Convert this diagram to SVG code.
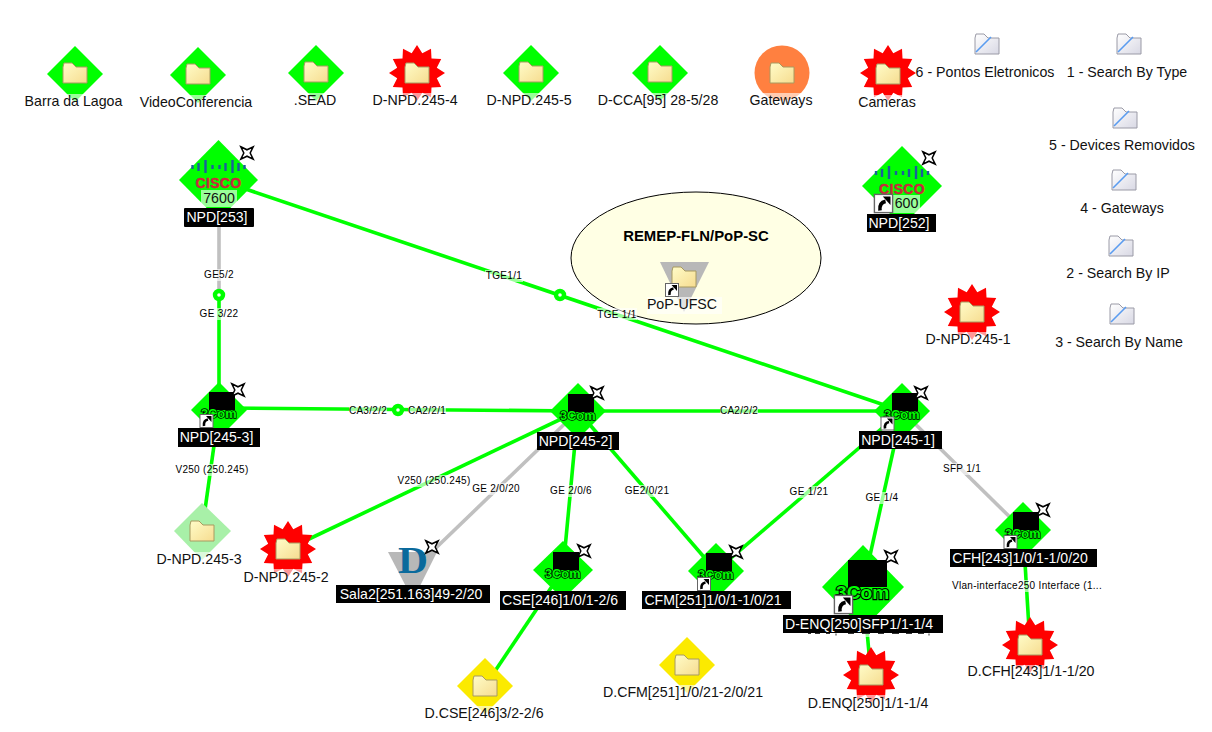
<svg xmlns="http://www.w3.org/2000/svg" width="1212" height="732" viewBox="0 0 1212 732">
<style>
text{font-family:"Liberation Sans",Arial,sans-serif}
.l{font-size:14.2px;fill:#111;text-anchor:middle}
.w{font-size:14.1px;fill:#fff;text-anchor:middle}
.e{font-size:10px;fill:#000;text-anchor:middle;letter-spacing:.3px}
.bg{fill:#fff;opacity:.6}
.bl{fill:#000}
.g{stroke:#0f0;stroke-width:3.6;fill:none}
.y{stroke:#c0c0c0;stroke-width:3.6;fill:none}
.dot{fill:#fff;stroke:#0f0;stroke-width:4.4}
.com{font-weight:bold;font-size:12.8px;fill:#0f0;stroke:#000;stroke-width:1.5px;paint-order:stroke}
</style>
<defs>
<linearGradient id="fy" x1="0" y1="0" x2="1" y2="1"><stop offset="0" stop-color="#fffcc8"/><stop offset="1" stop-color="#f6dc90"/></linearGradient>
<linearGradient id="fw" x1="0" y1="0" x2="1" y2="1"><stop offset="0" stop-color="#fff"/><stop offset="1" stop-color="#d8d8e4"/></linearGradient>
<g id="folder"><path d="M-12-6 L-11-10 L-3-10 L1-6 L12-6 L12 10 L-12 10Z" fill="url(#fy)" stroke="#a89a60"/></g>
<g id="wfolder"><path d="M-12-6 L-11-10 L-3-10 L1-6 L12-6 L12 10 L-12 10Z" fill="url(#fw)" stroke="#9a9aa6"/><path d="M-11 8 L4-7" stroke="#5a9cf0" stroke-width="1.6" fill="none"/></g>
<polygon id="star" fill="#f00" points="0,-28 5.300,-19.800 14,-24.200 14.500,-14.500 24.200,-14 19.800,-5.300 28,0 19.800,5.300 24.200,14 14.500,14.500 14,24.200 5.300,19.800 0,28 -5.300,19.800 -14,24.200 -14.500,14.500 -24.200,14 -19.800,5.300 -28,0 -19.800,-5.300 -24.200,-14 -14.500,-14.500 -14,-24.200 -5.300,-19.800"/>
<polygon id="dia" fill="#0f0" points="0,-28 28,0 0,28 -28,0"/>
<path id="s4" d="M-6.200-6.200 L0-3.200 L6.200-6.200 L3.200 0 L6.200 6.200 L0 3.200 L-6.200 6.200 L-3.200 0Z" fill="#fff" stroke="#000" stroke-width="1.500"/>
<g id="sc"><rect x="-6.500" y="-6.500" width="13" height="13" fill="#fff" stroke="#666"/><path d="M-2.500 5 C-3 1 -1-1 1.500-1.500" fill="none" stroke="#000" stroke-width="2.600"/><path d="M-.5-5 L5-5 L5 1Z" fill="#000"/></g>
<g id="com3"><rect x="-10" y="-18" width="26" height="18" fill="#000"/><text class="com" x="-18" y="8">3Com</text></g>
<g id="cisco">
<path d="M-26-15v4M-20-17v8M-13-20v13M-6-15v4M1-15v4M7-17v8M14-20v13M20-17v8M26-15v4" stroke="#1a5f9c" stroke-width="2.400" fill="none"/>
<text x="0" y="8" text-anchor="middle" font-weight="bold" font-size="14" letter-spacing=".3" fill="#c82a3c" stroke="#c82a3c" stroke-width=".5">CISCO</text>
</g>
</defs>
<rect width="1212" height="732" fill="#fff"/>

<ellipse id="group-remep" cx="696" cy="258" rx="125" ry="66" fill="#ffffe4" stroke="#000"/>

<g id="connectors">
<path class="g" d="M219 180L902 411"/>
<path class="y" d="M219 227L219 295"/>
<path class="g" d="M219 295L219 410"/>
<path class="g" d="M219 408L578 411"/>
<path class="g" d="M578 411L902 411"/>
<path class="g" d="M219 410L202 531"/>
<path class="g" d="M578 411L288 549"/>
<path class="y" d="M578 411L413 570"/>
<path class="g" d="M578 411L563 570"/>
<path class="g" d="M578 411L716 571"/>
<path class="g" d="M902 411L716 571"/>
<path class="g" d="M902 411L863 587"/>
<path class="y" d="M902 411L1023 530"/>
<path class="g" d="M1023 530L1030 645"/>
<path class="g" d="M863 587L871 675"/>
<path class="g" d="M563 570L485 686"/>
<circle class="dot" cx="219" cy="295" r="4"/>
<circle class="dot" cx="560" cy="295" r="4"/>
<circle class="dot" cx="398" cy="410" r="4"/>
<g id="edge-labels">
<rect class="bg" x="202" y="269" width="34" height="12"/><text class="e" x="219" y="278">GE5/2</text>
<rect class="bg" x="199" y="308" width="41" height="12"/><text class="e" x="219" y="317">GE 3/22</text>
<rect class="bg" x="485" y="270" width="38" height="12"/><text class="e" x="504" y="279">TGE1/1</text>
<rect class="bg" x="597" y="308" width="40" height="12"/><text class="e" x="617" y="318">TGE 1/1</text>
<rect class="bg" x="349" y="405" width="38" height="12"/><text class="e" x="368" y="414">CA3/2/2</text>
<rect class="bg" x="408" y="405" width="38" height="12"/><text class="e" x="427" y="414">CA2/2/1</text>
<rect class="bg" x="720" y="405" width="38" height="12"/><text class="e" x="739" y="414">CA2/2/2</text>
<rect class="bg" x="175" y="464" width="74" height="12"/><text class="e" x="212" y="473">V250 (250.245)</text>
<rect class="bg" x="397" y="475" width="74" height="12"/><text class="e" x="434" y="484">V250 (250.245)</text>
<rect class="bg" x="472" y="483" width="48" height="12"/><text class="e" x="496" y="492">GE 2/0/20</text>
<rect class="bg" x="550" y="485" width="42" height="12"/><text class="e" x="571" y="494">GE 2/0/6</text>
<rect class="bg" x="625" y="485" width="44" height="12"/><text class="e" x="647" y="494">GE2/0/21</text>
<rect class="bg" x="789" y="486" width="40" height="12"/><text class="e" x="809" y="495">GE 1/21</text>
<rect class="bg" x="865" y="492" width="34" height="12"/><text class="e" x="882" y="501">GE 1/4</text>
<rect class="bg" x="943" y="463" width="38" height="12"/><text class="e" x="962" y="472">SFP 1/1</text>
<rect class="bg" x="953" y="580" width="148" height="12"/><text class="e" x="1027" y="589">Vlan-interface250 Interface (1...</text>
<rect class="bg" x="806" y="633" width="126" height="4"/>
<path d="M808 633.500h3M815 633.500h5M826 633.500h4M836 633.500v2M848 633.500h6M862 633.500h8M878 633.500h6M892 633.500h7M906 633.500h6M918 633.500h6M929 633.500v2" stroke="#333" fill="none"/>
</g>
</g>

<g id="n-barra"><use href="#dia" x="75" y="74"/><use href="#folder" x="75" y="73"/><rect class="bg" x="23" y="94" width="100" height="16"/><text class="l" x="73.500" y="106">Barra da Lagoa</text></g>
<g id="n-video"><use href="#dia" x="198" y="75"/><use href="#folder" x="198" y="74"/><rect class="bg" x="139" y="95" width="114" height="16"/><text class="l" x="196" y="107">VideoConferencia</text></g>
<g id="n-sead"><use href="#dia" x="316" y="73"/><use href="#folder" x="316" y="72"/><rect class="bg" x="294" y="93" width="42" height="16"/><text class="l" x="315" y="105">.SEAD</text></g>
<g id="n-245-4"><use href="#star" x="417" y="73"/><use href="#folder" x="417" y="73"/><rect class="bg" x="372" y="93" width="86" height="16"/><text class="l" x="415" y="105">D-NPD.245-4</text></g>
<g id="n-245-5"><use href="#dia" x="531" y="73"/><use href="#folder" x="531" y="72"/><rect class="bg" x="486" y="93" width="86" height="16"/><text class="l" x="529" y="105">D-NPD.245-5</text></g>
<g id="n-cca"><use href="#dia" x="660" y="73"/><use href="#folder" x="660" y="72"/><rect class="bg" x="597" y="93" width="122" height="16"/><text class="l" x="658" y="105">D-CCA[95] 28-5/28</text></g>
<g id="n-gateways"><circle cx="782" cy="73" r="27.500" fill="#ff8040"/><use href="#folder" x="782" y="73"/><rect class="bg" x="749" y="93" width="64" height="16"/><text class="l" x="781" y="105">Gateways</text></g>
<g id="n-cameras"><use href="#star" x="888" y="73"/><use href="#folder" x="888" y="74"/><rect class="bg" x="858" y="95" width="60" height="16"/><text class="l" x="887" y="107">Cameras</text></g>

<g id="n-pontos"><use href="#wfolder" x="987" y="44"/><text class="l" x="985" y="77">6 - Pontos Eletronicos</text></g>
<g id="n-type"><use href="#wfolder" x="1129" y="44"/><text class="l" x="1127" y="77">1 - Search By Type</text></g>
<g id="n-removidos"><use href="#wfolder" x="1125" y="118"/><text class="l" x="1122" y="150">5 - Devices Removidos</text></g>
<g id="n-gw4"><use href="#wfolder" x="1124" y="180"/><text class="l" x="1122" y="213">4 - Gateways</text></g>
<g id="n-ip"><use href="#wfolder" x="1121" y="246"/><text class="l" x="1118" y="278">2 - Search By IP</text></g>
<g id="n-name"><use href="#wfolder" x="1122" y="314"/><text class="l" x="1119" y="347">3 - Search By Name</text></g>

<g id="n-253"><polygon fill="#0f0" points="218.500,140 258,180 218.500,220 179,180"/><use href="#cisco" x="218.500" y="180"/><rect class="bg" x="201" y="190" width="36" height="17"/><text class="l" x="219" y="203">7600</text><use href="#s4" x="247" y="153"/><rect class="bl" x="184" y="208" width="70" height="19" rx="1"/><text class="w" x="217" y="222">NPD[253]</text></g>
<g id="n-252"><polygon fill="#0f0" points="902,146 942,186 902,226 862,186"/><use href="#cisco" x="902" y="186"/><rect class="bg" x="893" y="195" width="27" height="18"/><text class="l" x="906.500" y="208">600</text><use href="#sc" transform="translate(883.500,203.500) scale(1.400)"/><use href="#s4" x="929" y="158"/><rect class="bl" x="867" y="214" width="69" height="18"/><text class="w" x="899" y="228">NPD[252]</text></g>

<g id="n-pop"><polygon fill="#b8b8b8" points="660,262 709,262 684,312"/><use href="#folder" x="684" y="277"/><use href="#sc" x="672" y="290"/><rect class="bg" x="647" y="297" width="75" height="17"/><text class="l" x="682" y="309">PoP-UFSC</text></g>
<text id="t-remep" x="696" y="241" text-anchor="middle" font-weight="bold" font-size="14.900" fill="#000">REMEP-FLN/PoP-SC</text>

<g id="n-245-1s"><use href="#star" x="972" y="312"/><use href="#folder" x="972" y="312"/><rect class="bg" x="926" y="332" width="86" height="16"/><text class="l" x="968" y="344">D-NPD.245-1</text></g>

<g id="n-245-3"><use href="#dia" x="219" y="410"/><use href="#com3" x="219" y="410"/><use href="#sc" x="206.500" y="421"/><use href="#s4" x="238" y="390"/><rect class="bl" x="178" y="428" width="82" height="19"/><text class="w" x="216.500" y="442">NPD[245-3]</text></g>
<g id="n-245-2"><use href="#dia" x="578" y="411"/><use href="#com3" x="578" y="412"/><use href="#s4" x="597" y="393"/><rect class="bl" x="537" y="432" width="82" height="18"/><text class="w" x="575.500" y="446">NPD[245-2]</text></g>
<g id="n-245-1"><use href="#dia" x="902" y="411"/><use href="#com3" x="902" y="411"/><use href="#sc" x="887.500" y="423.500"/><use href="#s4" x="921" y="393"/><rect class="bl" x="859" y="431" width="83" height="18"/><text class="w" x="898" y="445">NPD[245-1]</text></g>
<g id="n-cse"><polygon fill="#0f0" points="563,541 593,570 563,599 533,570"/><use href="#com3" x="563" y="570"/><use href="#s4" x="584" y="551"/><rect class="bl" x="500" y="591" width="126" height="19"/><text class="w" x="560" y="605">CSE[246]1/0/1-2/6</text></g>
<g id="n-cfm"><use href="#dia" x="716" y="571"/><use href="#com3" x="716" y="571"/><use href="#sc" x="704" y="584"/><use href="#s4" x="736" y="552"/><rect class="bl" x="642" y="591" width="149" height="18"/><text class="w" x="713" y="605">CFM[251]1/0/1-1/0/21</text></g>
<g id="n-cfh"><use href="#dia" x="1023" y="530"/><use href="#com3" x="1023" y="530"/><use href="#sc" x="1010.500" y="542"/><use href="#s4" x="1043" y="510"/><rect class="bl" x="950" y="549" width="147" height="18"/><text class="w" x="1020" y="563">CFH[243]1/0/1-1/0/20</text></g>
<g id="n-enq"><polygon fill="#0f0" points="863,545 904,587 863,629 822,587"/><use href="#com3" transform="translate(863,587) scale(1.500)"/><use href="#sc" transform="translate(843.500,604.500) scale(1.400)"/><use href="#s4" x="891" y="557"/><rect class="bl" x="783" y="615" width="160" height="18"/><text class="w" x="859" y="629">D-ENQ[250]SFP1/1-1/4</text></g>
<g id="n-sala2"><polygon fill="#b8b8b8" points="388,552 437,552 413,600"/><text x="413" y="573" text-anchor="middle" font-weight="bold" font-size="37" fill="#0a6a9c" textLength="30" lengthAdjust="spacingAndGlyphs" style="font-family:'Liberation Serif',serif">D</text><use href="#s4" x="432" y="547"/><rect class="bl" x="336" y="585" width="154" height="18"/><text class="w" x="411" y="599">Sala2[251.163]49-2/20</text></g>

<g id="n-npd3f"><polygon fill="#a8f0a8" points="202,503 231,531 202,560 174,531"/><use href="#folder" x="202" y="531"/><rect class="bg" x="156" y="552" width="86" height="16"/><text class="l" x="199" y="564">D-NPD.245-3</text></g>
<g id="n-npd2f"><use href="#star" x="288" y="549"/><use href="#folder" x="288" y="549"/><rect class="bg" x="244" y="569" width="84" height="16"/><text class="l" x="286" y="582">D-NPD.245-2</text></g>
<g id="n-dcse"><polygon fill="#fbea00" points="485,658 513,686 485,714 457,686"/><use href="#folder" x="485" y="686"/><rect class="bg" x="422" y="706" width="122" height="16"/><text class="l" x="484" y="718">D.CSE[246]3/2-2/6</text></g>
<g id="n-dcfm"><polygon fill="#fbea00" points="687,637 715,665 687,693 659,665"/><use href="#folder" x="687" y="665"/><rect class="bg" x="603" y="685" width="162" height="16"/><text class="l" x="683" y="697">D.CFM[251]1/0/21-2/0/21</text></g>
<g id="n-denq"><use href="#star" x="871" y="675"/><use href="#folder" x="871" y="675"/><rect class="bg" x="807" y="695" width="122" height="16"/><text class="l" x="868" y="708">D.ENQ[250]1/1-1/4</text></g>
<g id="n-dcfh"><use href="#star" x="1030" y="645"/><use href="#folder" x="1030" y="645"/><rect class="bg" x="964" y="665" width="128" height="16"/><text class="l" x="1031" y="676">D.CFH[243]1/1-1/20</text></g>
</svg>
